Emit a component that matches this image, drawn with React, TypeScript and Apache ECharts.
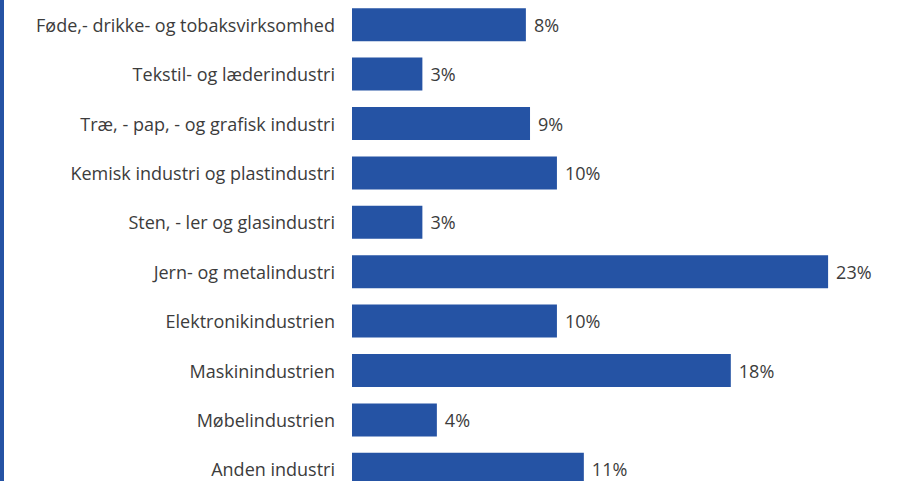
import React, { useEffect, useRef } from "react";
import * as echarts from "echarts";

const categories = [
  "Føde,- drikke- og tobaksvirksomhed",
  "Tekstil- og læderindustri",
  "Træ, - pap, - og grafisk industri",
  "Kemisk industri og plastindustri",
  "Sten, - ler og glasindustri",
  "Jern- og metalindustri",
  "Elektronikindustrien",
  "Maskinindustrien",
  "Møbelindustrien",
  "Anden industri",
];
const values = [8.4, 3.4, 8.6, 9.9, 3.4, 23.0, 9.9, 18.3, 4.1, 11.2];

const BAR_COLOR = "#2553a4";
const TEXT_COLOR = "#3c3c3c";
const FONT = "'Open Sans', sans-serif";

export default function App() {
  const ref = useRef<HTMLDivElement>(null);
  useEffect(() => {
    if (!ref.current) return;
    const chart = echarts.init(ref.current, null, { renderer: "svg" });
    chart.setOption({
      animation: false,
      backgroundColor: "#ffffff",
      grid: { left: 352, right: 30.5, top: -2, bottom: 0, containLabel: false },
      xAxis: {
        type: "value",
        min: 0,
        max: 25,
        show: false,
      },
      yAxis: {
        type: "category",
        inverse: true,
        data: categories,
        axisLine: { show: false },
        axisTick: { show: false },
        axisLabel: {
          color: TEXT_COLOR,
          fontSize: 18,
          fontFamily: FONT,
          margin: 17,
        },
      },
      series: [
        {
          type: "bar",
          data: values,
          barWidth: 33,
          itemStyle: { color: BAR_COLOR },
          label: {
            show: true,
            position: "right",
            distance: 8,
            color: TEXT_COLOR,
            fontSize: 18,
            fontFamily: FONT,
            formatter: (p: any) => Math.round(p.value) + "%",
          },
        },
      ],
      graphic: [
        {
          type: "rect",
          left: 0,
          top: 0,
          shape: { x: 0, y: 0, width: 4, height: 600 },
          style: { fill: BAR_COLOR },
        },
      ],
    });
    return () => chart.dispose();
  }, []);
  return (
    <div
      ref={ref}
      style={{ position: "fixed", left: 0, top: 0, width: 900, height: 494 }}
    />
  );
}
